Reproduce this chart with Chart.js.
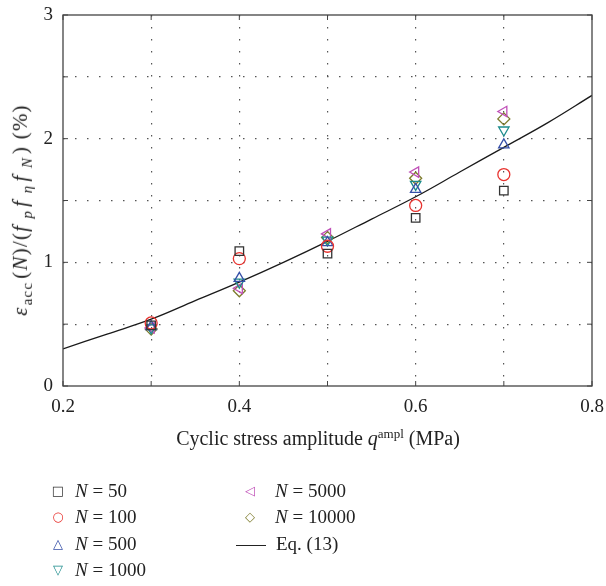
<!DOCTYPE html>
<html>
<head>
<meta charset="utf-8">
<script src="https://cdn.jsdelivr.net/npm/chart.js@4/dist/chart.umd.min.js"></script>
<style>
  html, body { margin: 0; padding: 0; background: #fff; }
  #wrap { position: relative; width: 606px; height: 586px; font-family: "Liberation Serif", "DejaVu Serif", serif; color: #222; }
  #chart { position: absolute; left: 0; top: 0; }
  .ytitle { position: absolute; left: 22px; top: 210px; transform: translate(-50%, -50%) rotate(-90deg); white-space: nowrap; font-size: 21px; letter-spacing: 1.2px; }
  .xtitle { position: absolute; left: 318px; top: 438px; transform: translate(-50%, -50%); white-space: nowrap; font-size: 20px; }
  .leg { position: absolute; font-size: 19px; white-space: nowrap; line-height: 20px; }
  .mk { display: inline-block; width: 16px; text-align: center; font-family: "DejaVu Sans", sans-serif; font-size: 13px; vertical-align: 2px; }
  .ln { display: inline-block; width: 30px; height: 0; border-top: 1.3px solid #222; vertical-align: middle; margin-right: 10px; }
  i { font-style: italic; }
  sub, sup { font-size: 13px; }
  .ytitle sub { font-size: 15px; margin-left: 1px; margin-right: 3px; }
</style>
</head>
<body>
<div id="wrap">
  <canvas id="chart" width="606" height="586"></canvas>
  <div class="ytitle"><i>&epsilon;</i><sub>acc</sub>(<i>N</i>)/(<i>f</i>&#8201;<sub><i>p</i></sub><i>f</i>&#8201;<sub><i>&eta;</i></sub><i>f</i>&#8201;<sub><i>N</i></sub>) (%)</div>
  <div class="xtitle">Cyclic stress amplitude <i>q</i><sup>ampl</sup> (MPa)</div>
  <div id="legend"></div>
</div>
<script>
// ---------- data ----------
const stressAmp = [0.3, 0.4, 0.5, 0.6, 0.7];

const n50 = [0.49, 1.09, 1.07, 1.36, 1.58];
const n100 = [0.51, 1.03, 1.13, 1.46, 1.71];
const n500 = [0.48, 0.87, 1.16, 1.59, 1.95];
const n1000 = [0.47, 0.84, 1.18, 1.63, 2.07];
const n5000 = [0.47, 0.79, 1.23, 1.73, 2.22];
const n10000 = [0.46, 0.77, 1.20, 1.68, 2.16];

// Eq. (13) curve
const eqX = [0.2, 0.25, 0.3, 0.35, 0.4, 0.45, 0.5, 0.55, 0.6, 0.65, 0.7, 0.75, 0.8];
const eqY = [0.30, 0.42, 0.54, 0.69, 0.84, 1.00, 1.17, 1.35, 1.53, 1.73, 1.93, 2.13, 2.35];

const xTickLabels = ["0.2", "0.4", "0.6", "0.8"];
const yTickLabels = ["0", "1", "2", "3"];

// ---------- series setup ----------
const series = [
  { label: "50", data: n50, color: "#333333", style: "rect", rot: 0, glyph: "\u25A1" },
  { label: "100", data: n100, color: "#e8332f", style: "circle", rot: 0, glyph: "\u25CB" },
  { label: "500", data: n500, color: "#3650a8", style: "triangle", rot: 0, glyph: "\u25B3" },
  { label: "1000", data: n1000, color: "#1d8c8c", style: "triangle", rot: 180, glyph: "\u25BD" },
  { label: "5000", data: n5000, color: "#c050b8", style: "triangle", rot: -90, glyph: "\u25C1" },
  { label: "10000", data: n10000, color: "#7d7b2c", style: "rectRot", rot: 0, glyph: "\u25C7" },
];

const datasets = series.map((s) => ({
  type: "scatter",
  label: "N = " + s.label,
  data: s.data.map((v, i) => ({ x: stressAmp[i], y: v })),
  borderColor: s.color,
  backgroundColor: "rgba(0,0,0,0)",
  pointStyle: s.style,
  pointRotation: s.rot,
  pointRadius: 6,
  pointBorderWidth: 1.3,
  showLine: false,
}));

datasets.push({
  type: "line",
  label: "Eq. (13)",
  data: eqX.map((x, i) => ({ x: x, y: eqY[i] })),
  borderColor: "#1a1a1a",
  borderWidth: 1.3,
  pointRadius: 0,
  tension: 0.4,
  fill: false,
});

// ---------- legend (html) ----------
const legendEl = document.getElementById("legend");
const legendRows = [
  { left: 50, top: 481, gap: 9, idx: 0 },
  { left: 50, top: 507, gap: 9, idx: 1 },
  { left: 50, top: 534, gap: 9, idx: 2 },
  { left: 50, top: 560, gap: 9, idx: 3 },
  { left: 242, top: 481, gap: 17, idx: 4 },
  { left: 242, top: 507, gap: 17, idx: 5 },
];
legendRows.forEach((r) => {
  const s = series[r.idx];
  const div = document.createElement("div");
  div.className = "leg";
  div.style.left = r.left + "px";
  div.style.top = r.top + "px";
  div.innerHTML = `<span class="mk" style="color:${s.color};margin-right:${r.gap}px">${s.glyph}</span><i>N</i> = ${s.label}`;
  legendEl.appendChild(div);
});
const eqDiv = document.createElement("div");
eqDiv.className = "leg";
eqDiv.style.left = "236px";
eqDiv.style.top = "534px";
eqDiv.innerHTML = `<span class="ln"></span>Eq. (13)`;
legendEl.appendChild(eqDiv);

// ---------- plugins ----------
const frame = {
  id: "frame",
  afterDraw(chart) {
    const { ctx, chartArea: a, scales } = chart;
    ctx.save();
    ctx.strokeStyle = "#444";
    ctx.lineWidth = 1.3;
    ctx.strokeRect(a.left, a.top, a.right - a.left, a.bottom - a.top);
    // small inward ticks
    ctx.lineWidth = 1;
    scales.x.ticks.forEach((t) => {
      const px = scales.x.getPixelForValue(t.value);
      ctx.beginPath();
      ctx.moveTo(px, a.bottom);
      ctx.lineTo(px, a.bottom - 5);
      ctx.moveTo(px, a.top);
      ctx.lineTo(px, a.top + 5);
      ctx.stroke();
    });
    scales.y.ticks.forEach((t) => {
      const py = scales.y.getPixelForValue(t.value);
      ctx.beginPath();
      ctx.moveTo(a.left, py);
      ctx.lineTo(a.left + 5, py);
      ctx.moveTo(a.right, py);
      ctx.lineTo(a.right - 5, py);
      ctx.stroke();
    });
    ctx.restore();
  },
};

function gridColor(ctx) {
  const v = ctx.tick ? ctx.tick.value : null;
  const s = ctx.scale;
  if (v === null || Math.abs(v - s.min) < 1e-6 || Math.abs(v - s.max) < 1e-6) return "rgba(0,0,0,0)";
  return "#555";
}

Chart.defaults.font.family = '"Liberation Serif", "DejaVu Serif", serif';
Chart.defaults.color = "#222";

new Chart(document.getElementById("chart").getContext("2d"), {
  data: { datasets: datasets },
  plugins: [frame],
  options: {
    responsive: false,
    animation: false,
    layout: { padding: { left: 0, top: 15, right: 14, bottom: 170 } },
    plugins: { legend: { display: false }, tooltip: { enabled: false } },
    scales: {
      x: {
        type: "linear",
        min: 0.2,
        max: 0.8,
        afterFit: (s) => {
          s.height = 30;
          s.paddingLeft = 0;
          s.paddingRight = 0;
        },
        border: { display: false, dash: [1.5, 10.5] },
        grid: { color: gridColor, lineWidth: 1.2, drawTicks: false },
        ticks: {
          stepSize: 0.1,
          padding: 10,
          font: { size: 19 },
          maxRotation: 0,
          callback: (v) => {
            const lbl = v.toFixed(1);
            return xTickLabels.includes(lbl) ? lbl : "";
          },
        },
      },
      y: {
        type: "linear",
        min: 0,
        max: 3,
        afterFit: (s) => {
          s.width = 63;
          s.paddingTop = 0;
          s.paddingBottom = 0;
        },
        border: { display: false, dash: [1.5, 10.5] },
        grid: { color: gridColor, lineWidth: 1.2, drawTicks: false },
        ticks: {
          stepSize: 0.5,
          padding: 10,
          font: { size: 19 },
          callback: (v) => {
            const lbl = String(v);
            return yTickLabels.includes(lbl) ? lbl : "";
          },
        },
      },
    },
  },
});
</script>
</body>
</html>
